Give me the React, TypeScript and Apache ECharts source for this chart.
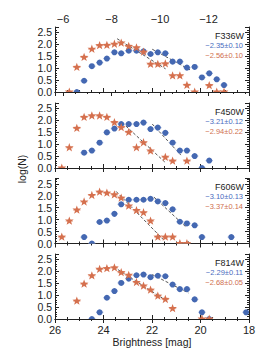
import React, { useEffect, useRef } from "react";
import * as echarts from "echarts";

const _ = null;
// bin centres (apparent magnitude)
const BINS = [25.72, 25.41, 25.10, 24.80, 24.48, 24.16, 23.86, 23.55, 23.27, 22.96, 22.64, 22.35, 22.06,
  21.76, 21.45, 21.15, 20.85, 20.56, 20.24, 19.94, 19.64, 19.33, 19.03, 18.73, 18.42, 18.12];

const FILTERS = ["F336W", "F450W", "F606W", "F814W"];

const BLUE_F336W = [_, _, 0, 0.47, 1.08, 1.23, 1.40, 1.66, 1.62, 1.73, 1.73, 1.70, 1.59, 1.66, 1.62, 1.27, 1.27, 1.02, 1.05, 0.61, 0.78, 0.53, 0.29, _, _, _];
const ORANGE_F336W = [_, 0, 1.03, 1.45, 1.79, 1.94, 1.95, 2.00, 2.05, 1.91, 1.85, 1.67, 1.16, 1.16, 1.18, 0.68, 0.68, 0.28, 0, _, 0.27, 0, 0, _, _, _];
const BLUE_F450W = [_, _, _, 0.64, 0.73, 1.06, 1.49, 1.65, 1.84, 1.84, 1.84, 1.90, 1.63, 1.69, 1.47, 1.06, 0.73, 0.73, 0.50, 0, 0.31, _, _, _, _, _];
const ORANGE_F450W = [0, 0.85, 1.66, 2.12, 2.18, 2.18, 2.12, 1.90, 1.69, 1.49, 0.85, 1.06, 0.71, _, 0.45, 0.29, _, 0.29, _, _, _, _, _, _, _, _];
const BLUE_F606W = [_, _, _, 0.27, 0, 0.90, 0.96, 1.24, 1.64, 1.83, 1.83, 1.83, 1.87, 1.76, 1.69, 1.43, 0.91, 0.84, 0.76, 0.27, _, _, _, 0.27, _, _];
const ORANGE_F606W = [0.27, 0.94, 1.40, 1.74, 2.01, 2.15, 2.11, 2.04, 1.90, 1.57, 1.38, 1.29, 0.94, 0.27, 0.27, 0.27, 0, 0, _, _, _, _, _, _, _, _];
const BLUE_F814W = [_, _, _, _, 0, 0.28, 0.89, 1.17, 1.51, 1.69, 1.83, 1.86, 1.75, 1.81, 1.79, 1.44, 1.25, 1.25, 0.82, 0.28, 0, _, _, _, _, 0.28];
const ORANGE_F814W = [_, _, 0.75, 1.46, 1.81, 2.08, 2.11, 2.14, 1.94, 1.83, 1.53, 1.38, 1.21, 0.96, 0.82, 0.44, _, _, _, 0, 0, _, _, _, _, _];

const BLUE_SERIES = [BLUE_F336W, BLUE_F450W, BLUE_F606W, BLUE_F814W];
const ORANGE_SERIES = [ORANGE_F336W, ORANGE_F450W, ORANGE_F606W, ORANGE_F814W];

const BLUE_SLOPES = ["−2.35±0.10", "−3.21±0.12", "−3.10±0.13", "−2.29±0.11"];
const ORANGE_SLOPES = ["−2.56±0.10", "−2.94±0.22", "−3.37±0.14", "−2.68±0.05"];

// fitted power-law lines: [start, end] as [mag, logN]
const BLUE_FITS = [
  [[21.99, 1.79], [20.40, 0.91]],
  [[21.99, 1.84], [20.81, 0.54]],
  [[21.92, 1.94], [20.61, 0.70]],
  [[21.99, 1.86], [20.50, 1.09]],
];
const ORANGE_FITS = [
  [[23.44, 2.23], [21.44, 0.97]],
  [[23.23, 1.90], [21.44, 0.22]],
  [[23.48, 2.18], [21.51, 0.14]],
  [[23.58, 2.18], [21.44, 0.79]],
];

const X_MIN = 18;
const X_MAX = 26;
const X_STEP = 2;
const DIST_MOD = 31.67; // top axis: absolute magnitude = m - DIST_MOD
const Y_MIN = 0;
const Y_MAX = 2.72;
const Y_STEP = 0.5;
const HALF_BIN = 0.15;

const BLUE = "#4468b2";
const BLUE_LIGHT = "#a9b9de";
const ORANGE = "#d5704e";
const ORANGE_LIGHT = "#ebb7a4";
const BLUE_TEXT = "#4a6cc0";
const ORANGE_TEXT = "#d0704f";
const INK = "#222";
const FONT = "Liberation Sans";

const GRID_TOPS = [27, 103, 178.5, 254];
const GRID_H = 65;
const GRID_LEFT = 55;
const GRID_RIGHT = 17;

function starPoints(cx: number, cy: number, R: number, r: number) {
  const pts: number[][] = [];
  for (let k = 0; k < 10; k++) {
    const a = -Math.PI / 2 + (k * Math.PI) / 5;
    const rad = k % 2 === 0 ? R : r;
    pts.push([cx + rad * Math.cos(a), cy + rad * Math.sin(a)]);
  }
  return pts;
}

function makeRender(kind: "circle" | "star") {
  return (params: any, api: any) => {
    const x = api.value(0);
    const y = api.value(1);
    const c = api.coord([x, y]);
    const l = api.coord([x + HALF_BIN, y]);
    const r = api.coord([x - HALF_BIN, y]);
    const children: any[] = [
      {
        type: "line",
        shape: { x1: l[0], y1: c[1], x2: r[0], y2: c[1] },
        style: { stroke: kind === "circle" ? BLUE_LIGHT : ORANGE_LIGHT, lineWidth: 1.3 },
      },
    ];
    if (kind === "circle") {
      children.push({ type: "circle", shape: { cx: c[0], cy: c[1], r: 3 }, style: { fill: BLUE } });
    } else {
      children.push({
        type: "polygon",
        shape: { points: starPoints(c[0], c[1], 4.6, 1.9) },
        style: { fill: ORANGE },
      });
    }
    return { type: "group", children };
  };
}

function toPairs(vals: (number | null)[]) {
  const out: number[][] = [];
  vals.forEach((v, i) => {
    if (v !== null) out.push([BINS[i], v]);
  });
  return out;
}

const isMultiple = (v: number, step: number) => Math.abs(v / step - Math.round(v / step)) < 1e-6;
const isZero = (v: number) => Math.abs(v) < 1e-9;

function buildOption() {
  const grid: any[] = [];
  const xAxis: any[] = [];
  const yAxis: any[] = [];
  const series: any[] = [];
  const graphic: any[] = [];

  const line = { show: true, lineStyle: { color: INK, width: 1 } };

  FILTERS.forEach((f, i) => {
    grid.push({ left: GRID_LEFT, right: GRID_RIGHT, top: GRID_TOPS[i], height: GRID_H });
    const isLast = i === FILTERS.length - 1;
    // bottom x axis
    xAxis.push({
      gridIndex: i,
      type: "value",
      min: X_MIN,
      max: X_MAX,
      interval: X_STEP,
      inverse: true,
      position: "bottom",
      axisLine: line,
      axisTick: { show: true, inside: true, length: 4, lineStyle: { color: INK } },
      minorTick: { show: true, splitNumber: 4, length: 2, lineStyle: { color: INK } },
      splitLine: { show: false },
      axisLabel: {
        show: isLast,
        color: INK,
        fontSize: 11,
        fontFamily: FONT,
        margin: 5,
        showMinLabel: true,
        showMaxLabel: true,
        formatter: (v: number) => String(Math.round(v)),
      },
      name: isLast ? "Brightness [mag]" : "",
      nameLocation: "middle",
      nameGap: 17,
      nameTextStyle: { color: INK, fontSize: 10.5, fontFamily: FONT },
    });
    // top x axis
    if (i === 0) {
      xAxis.push({
        gridIndex: i,
        type: "value",
        min: X_MIN - DIST_MOD,
        max: X_MAX - DIST_MOD,
        splitNumber: 4,
        inverse: true,
        position: "top",
        axisLine: line,
        axisTick: { show: true, inside: true, length: 4, lineStyle: { color: INK } },
        minorTick: { show: true, splitNumber: 4, length: 2, lineStyle: { color: INK } },
        splitLine: { show: false },
        axisLabel: {
          show: true,
          color: INK,
          fontSize: 11,
          fontFamily: FONT,
          margin: 3,
          formatter: (v: number) => (isMultiple(v, X_STEP) ? "−" + Math.abs(Math.round(v)) : ""),
        },
      });
    } else {
      xAxis.push({
        gridIndex: i,
        type: "value",
        min: X_MIN,
        max: X_MAX,
        interval: X_STEP,
        inverse: true,
        position: "top",
        axisLine: line,
        axisTick: { show: true, inside: true, length: 4, lineStyle: { color: INK } },
        minorTick: { show: true, splitNumber: 4, length: 2, lineStyle: { color: INK } },
        splitLine: { show: false },
        axisLabel: { show: false },
      });
    }
    // y axes
    const yBase = {
      gridIndex: i,
      type: "value",
      min: Y_MIN,
      max: Y_MAX,
      interval: Y_STEP,
      axisLine: line,
      axisTick: { show: true, inside: true, length: 4, lineStyle: { color: INK } },
      minorTick: { show: true, splitNumber: 5, length: 2, lineStyle: { color: INK } },
      splitLine: { show: false },
    };
    // main left axis: labels 0.5 … 2.5
    yAxis.push({
      ...yBase,
      position: "left",
      axisLabel: {
        show: true,
        color: INK,
        fontSize: 10.5,
        fontFamily: FONT,
        margin: 3,
        formatter: (v: number) => (isMultiple(v, Y_STEP) && !isZero(v) ? v.toFixed(1) : ""),
      },
    });
    // right mirror axis (ticks only)
    yAxis.push({ ...yBase, position: "right", axisLabel: { show: false } });
    // label-only axis for the 0.0 tick
    yAxis.push({
      gridIndex: i,
      type: "value",
      min: Y_MIN,
      max: Y_MAX,
      interval: Y_STEP,
      position: "left",
      axisLine: { show: false },
      axisTick: { show: false },
      splitLine: { show: false },
      axisLabel: {
        show: true,
        showMinLabel: true,
        color: INK,
        fontSize: 10.5,
        fontFamily: FONT,
        margin: 3,
        formatter: (v: number) => (isZero(v) ? "0.0" : ""),
      },
    });

    const xi = 2 * i;
    const yi = 3 * i;
    series.push({
      type: "line",
      xAxisIndex: xi,
      yAxisIndex: yi,
      data: ORANGE_FITS[i],
      symbol: "none",
      lineStyle: { color: "#555", width: 1, type: [3, 2] },
      z: 1,
    });
    series.push({
      type: "line",
      xAxisIndex: xi,
      yAxisIndex: yi,
      data: BLUE_FITS[i],
      symbol: "none",
      lineStyle: { color: "#555", width: 1, type: [3, 2] },
      z: 1,
    });
    series.push({
      type: "custom",
      xAxisIndex: xi,
      yAxisIndex: yi,
      data: toPairs(BLUE_SERIES[i]),
      renderItem: makeRender("circle"),
      clip: true,
      z: 2,
    });
    series.push({
      type: "custom",
      xAxisIndex: xi,
      yAxisIndex: yi,
      data: toPairs(ORANGE_SERIES[i]),
      renderItem: makeRender("star"),
      clip: true,
      z: 3,
    });

    const top = GRID_TOPS[i];
    graphic.push({
      type: "text",
      right: GRID_RIGHT + 5,
      top: top + 4,
      style: { text: f, fill: INK, fontSize: 9, fontFamily: FONT },
    });
    graphic.push({
      type: "text",
      right: GRID_RIGHT + 6,
      top: top + 14,
      style: { text: BLUE_SLOPES[i], fill: BLUE_TEXT, fontSize: 7.5, fontFamily: FONT },
    });
    graphic.push({
      type: "text",
      right: GRID_RIGHT + 6,
      top: top + 24,
      style: { text: ORANGE_SLOPES[i], fill: ORANGE_TEXT, fontSize: 7.5, fontFamily: FONT },
    });
  });

  graphic.push({
    type: "text",
    x: 22,
    y: 169,
    rotation: Math.PI / 2,
    style: {
      text: "log(N)",
      fill: INK,
      fontSize: 10.5,
      fontFamily: FONT,
      align: "center",
      verticalAlign: "middle",
    },
  });

  return {
    animation: false,
    backgroundColor: "#ffffff",
    textStyle: { fontFamily: FONT },
    grid,
    xAxis,
    yAxis,
    series,
    graphic,
  };
}

export default function App() {
  const ref = useRef<HTMLDivElement>(null);
  useEffect(() => {
    if (!ref.current) return;
    const chart = echarts.init(ref.current, undefined, { renderer: "svg" });
    chart.setOption(buildOption() as any);
    return () => chart.dispose();
  }, []);
  return (
    <div
      ref={ref}
      style={{ position: "fixed", left: 0, top: 0, width: 266, height: 354, background: "#fff" }}
    />
  );
}
